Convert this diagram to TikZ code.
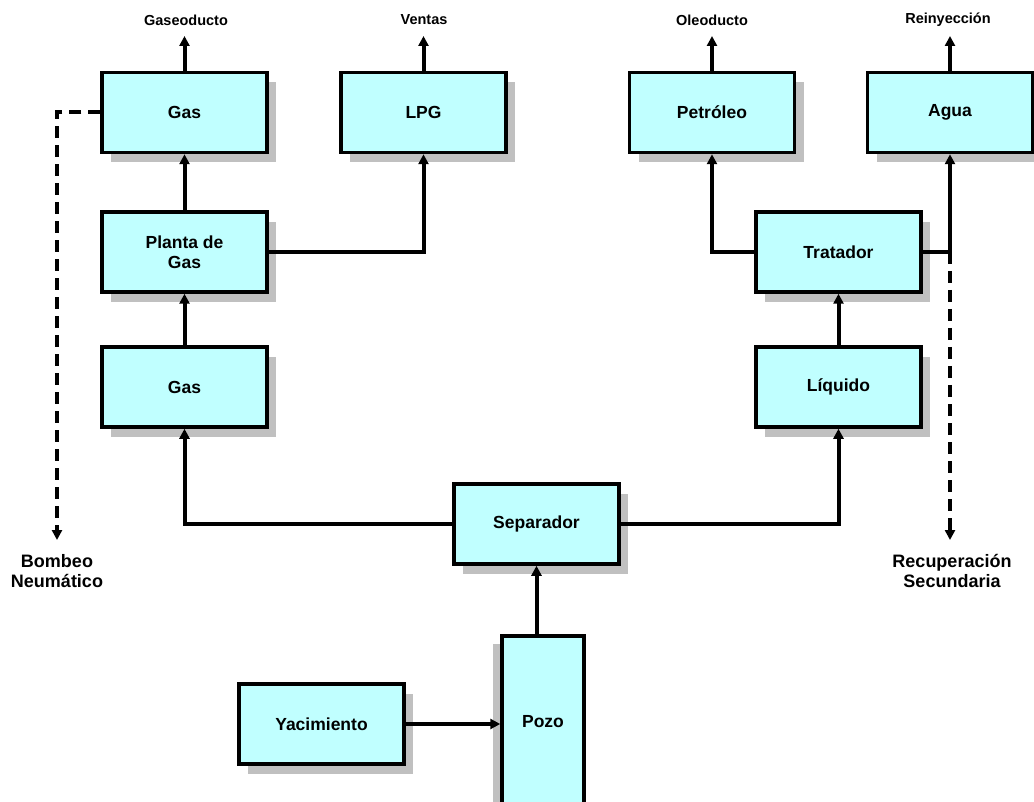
\documentclass[tikz,border=0pt]{standalone}
\usepackage{fontspec}
\setmainfont{Liberation Sans}
\usetikzlibrary{arrows.meta,shadows}
\definecolor{boxfill}{RGB}{192,255,255}
\definecolor{shadowgray}{RGB}{192,192,192}
\begin{document}
\begin{tikzpicture}[x=1pt,y=-1pt,
  basebox/.style={draw=black, line width=3.5pt, fill=boxfill,
    inner sep=0pt, align=center, font=\fontsize{17.5}{20}\selectfont\bfseries},
  procbox/.style={basebox, minimum width=165pt, minimum height=80pt,
    drop shadow={shadow xshift=9pt, shadow yshift=-10pt, fill=shadowgray, opacity=1}},
  tallbox/.style={basebox, minimum width=82pt, minimum height=172pt,
    drop shadow={shadow xshift=-9pt, shadow yshift=-8pt, fill=shadowgray, opacity=1}},
  toplabel/.style={font=\fontsize{14.5}{16}\selectfont\bfseries, inner sep=0pt},
  sidelabel/.style={font=\fontsize{18}{20}\selectfont\bfseries, align=center, inner sep=0pt},
  flow/.style={line width=4pt, -{Triangle[width=10pt,length=10pt]}},
  link/.style={line width=4pt},
  dashflow/.style={line width=4pt, dash pattern=on 12pt off 7pt, -{Triangle[width=10pt,length=10pt]}}
]
\useasboundingbox (0,0) rectangle (1034,802);

% boxes
\node[procbox] (gastop) at (184.5,112.5) {Gas};
\node[procbox] (lpg) at (423.5,112.5) {LPG};
\node[procbox] (petroleo) at (712,112.5) {Petróleo};
\node[procbox] (agua) at (950,112.5) {Agua};
\node[procbox] (planta) at (184.5,252) {Planta de\\Gas};
\node[procbox] (tratador) at (838.5,252) {Tratador};
\node[procbox] (gaslow) at (184.5,387) {Gas};
\node[procbox] (liquido) at (838.5,387) {Líquido};
\node[procbox] (separador) at (536.5,524) {Separador};
\node[procbox] (yacimiento) at (321.5,724) {Yacimiento};
\node[tallbox] (pozo) at (543,722) {Pozo};

% labels
\node[toplabel] (lgaseo) at (186,20) {Gaseoducto};
\node[toplabel] (lventas) at (424,20) {Ventas};
\node[toplabel] (loleo) at (712,20) {Oleoducto};
\node[toplabel] (lreiny) at (948,20) {Reinyección};
\node[sidelabel] (lbombeo) at (57,571) {Bombeo\\Neumático};
\node[sidelabel] (lrecup) at (952,571) {Recuperación\\Secundaria};

% free ends
\coordinate (gasout) at (184.5,36);
\coordinate (lpgout) at (423.5,36);
\coordinate (petout) at (712,36);
\coordinate (aguaout) at (950,36);
\coordinate (bombeotip) at (57,540);
\coordinate (bcorner) at (57,112.5);
\coordinate (tj) at (950,252);
\coordinate (recuptip) at (950,540);

% outputs
\draw[flow] (gastop.north) -- (gasout);
\draw[flow] (lpg.north) -- (lpgout);
\draw[flow] (petroleo.north) -- (petout);
\draw[flow] (agua.north) -- (aguaout);

% internal flows
\draw[flow] (planta.north) -- (gastop.south);
\draw[flow] (gaslow.north) -- (planta.south);
\draw[flow] (planta.east) -| (lpg.south);
\draw[flow] (tratador.west) -| (petroleo.south);
\draw[link] (tratador.east) -- (tj);
\draw[flow] (tj) -- (agua.south);
\draw[dashflow] (tj) -- (recuptip);
\draw[flow] (liquido.north) -- (tratador.south);
\draw[flow] (separador.east) -| (liquido.south);
\draw[flow] (separador.west) -| (gaslow.south);
\draw[flow] (separador.south |- pozo.north) -- (separador.south);
\draw[flow] (yacimiento.east) -- (pozo.west |- yacimiento.east);
\draw[dashflow] (gastop.west) -- (bcorner) -- (bombeotip);
\end{tikzpicture}
\end{document}
